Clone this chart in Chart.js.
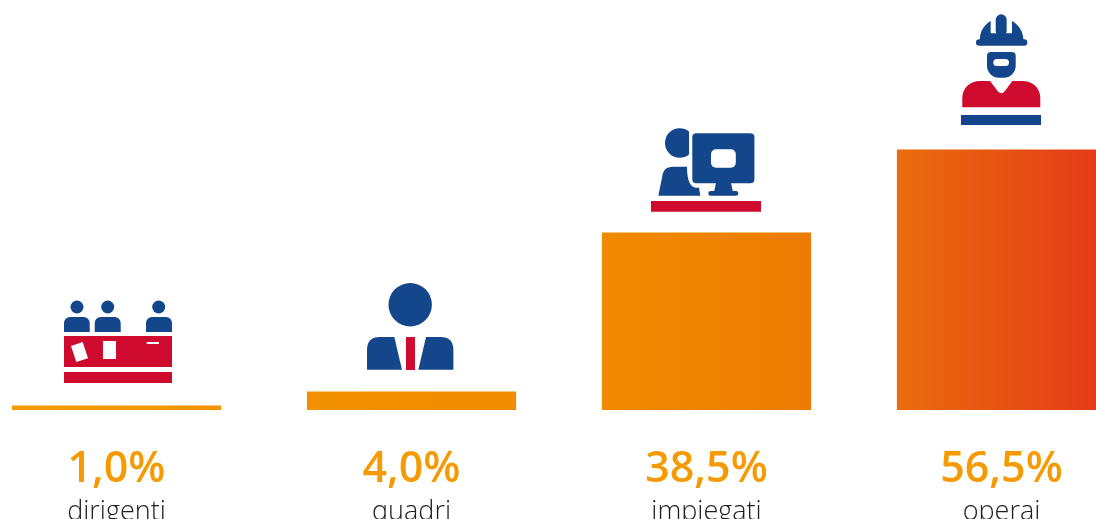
<!DOCTYPE html>
<html><head><meta charset="utf-8">
<style>
html,body{margin:0;padding:0;background:#fff;overflow:hidden;width:1096px;height:519px}
#wrap{position:absolute;left:0;top:0;width:1096px;height:519px;overflow:hidden}
#c{position:absolute;left:-31px;top:0}
</style>
<script src="https://cdn.jsdelivr.net/npm/chart.js@4"></script>
</head><body><div id="wrap"><canvas id="c" width="1180" height="540"></canvas></div>
<script>
const categories = ["dirigenti","quadri","impiegati","operai"];
const shares = [1.0,4.0,38.5,56.5];
const shareLabels = ["1,0%","4,0%","38,5%","56,5%"];

const BLUE="#14468c", RED="#ce0a2f", ORANGE="#f59a00", WHITE="#fff";
function rr(g,x0,y0,x1,y1,r,col){g.fillStyle=col;g.beginPath();g.roundRect(x0,y0,x1-x0,y1-y0,r);g.fill();}
function circ(g,x,y,r,col){g.fillStyle=col;g.beginPath();g.arc(x,y,r,0,Math.PI*2);g.fill();}
const icons=[
 function(g){ // dirigenti
  [[77,64,89.7],[107.7,94.7,120.7],[158.7,146,172]].forEach(p=>{
   circ(g,p[0],307,6.5,BLUE);rr(g,p[1],317,p[2],332,[6,6,0,0],BLUE);});
  rr(g,64,336,172,367,0,RED);rr(g,64,372,172,383,0,RED);
  g.fillStyle=WHITE;g.beginPath();g.moveTo(71,346);g.lineTo(82.7,342);g.lineTo(88,358.3);g.lineTo(76.3,362);g.closePath();g.fill();
  rr(g,103,341,116,359,0,WHITE);rr(g,146.7,342,159,344,0,WHITE);
 },
 function(g){ // quadri
  circ(g,410.2,304.7,21.7,BLUE);
  g.fillStyle=BLUE;
  g.beginPath();g.moveTo(367,369.7);g.lineTo(367,350);g.quadraticCurveTo(367,337,380,337);g.lineTo(394.3,337);g.lineTo(402,369.7);g.closePath();g.fill();
  g.beginPath();g.moveTo(453.4,369.7);g.lineTo(453.4,350);g.quadraticCurveTo(453.4,337,440.4,337);g.lineTo(426,337);g.lineTo(418.4,369.7);g.closePath();g.fill();
  rr(g,406,337,415,370,0,RED);
 },
 function(g){ // impiegati
  g.save();g.beginPath();g.rect(650,120,39,50);g.clip();circ(g,679.7,143,14.7,BLUE);g.restore();
  g.fillStyle=BLUE;g.beginPath();g.moveTo(658.3,195.7);g.lineTo(663,173);g.quadraticCurveTo(665,166.7,673,166.7);g.lineTo(687,166.7);
  g.quadraticCurveTo(687,187.7,697,187.7);g.lineTo(699,187.7);g.lineTo(700.3,195.7);g.closePath();g.fill();
  rr(g,692.3,133.3,754.4,183.3,4,BLUE);
  rr(g,711,149.3,735.8,167.7,5,WHITE);
  g.fillStyle=BLUE;g.beginPath();g.moveTo(716,183);g.lineTo(731,183);g.lineTo(733,192);g.lineTo(714,192);g.closePath();g.fill();
  rr(g,708.3,191,738.3,195.7,2.3,BLUE);
  rr(g,651,201,761,211.7,0,RED);
 },
 function(g){ // operai
  g.fillStyle=BLUE;g.beginPath();g.moveTo(979.8,40);g.bezierCurveTo(980,31,984,25,990.7,21);g.lineTo(990.7,33.3);g.lineTo(1012,33.3);g.lineTo(1012,21);g.bezierCurveTo(1019,25,1023,31,1023.5,40);g.closePath();g.fill();
  rr(g,995.7,14.3,1006.7,36,5.5,BLUE);
  rr(g,976,39.3,1027.3,45.7,3.2,BLUE);
  rr(g,987,52,1015.7,77.7,[4,4,12,12],BLUE);
  rr(g,993.3,59,1009,66,3.5,WHITE);
  g.fillStyle=RED;g.beginPath();g.moveTo(962.3,107.3);g.lineTo(962.3,98);g.bezierCurveTo(962.3,88,970,81,980,81);g.lineTo(990,81);g.lineTo(998,91.5);g.quadraticCurveTo(1001.3,95,1004.6,91.5);g.lineTo(1012.3,81);g.lineTo(1022,81);g.bezierCurveTo(1033,81,1040.3,88,1040.3,98);g.lineTo(1040.3,107.3);g.closePath();g.fill();
  rr(g,961,115,1041,125,0,BLUE);
 }
];
const refX=[116.5,411.5,706.5,1001.5];
const iconPlugin={id:"icons",afterDatasetsDraw(chart){
  const g=chart.ctx,x=chart.scales.x;
  categories.forEach((c,i)=>{g.save();g.translate(x.getPixelForValue(i)-refX[i],0);icons[i](g);g.restore();});
}};
function grad(ctx){
  const a=ctx.chart.chartArea; if(!a) return ORANGE;
  const l=a.left+31,r=l+1096;
  const gr=ctx.chart.ctx.createLinearGradient(l,0,r,0);
  gr.addColorStop(0,"#f59a00");gr.addColorStop(0.55,"#f08a00");gr.addColorStop(0.74,"#ed7b02");gr.addColorStop(0.82,"#ea6c0c");gr.addColorStop(1,"#e43c18");
  return gr;
}
new Chart(document.getElementById("c"),{
 type:"bar",
 data:{labels:categories,datasets:[{data:shares,backgroundColor:grad,borderWidth:0,categoryPercentage:1,barPercentage:0.709,xAxisID:"x"}]},
 plugins:[iconPlugin],
 options:{responsive:false,animation:false,layout:{padding:0},
  plugins:{legend:{display:false},tooltip:{enabled:false}},
  scales:{
   y:{display:false,min:0,max:88.94},
   v:{type:"category",labels:shareLabels,position:"bottom",weight:0,offset:true,grid:{display:false},border:{display:false},
      ticks:{color:ORANGE,font:{family:"'Open Sans'",size:43,weight:"600"},padding:26,autoSkip:false,maxRotation:0,minRotation:0},
      afterFit(s){s.height=78;}},
   x:{type:"category",position:"bottom",weight:1,offset:true,grid:{display:false},border:{display:false},
      ticks:{color:"#1d1d1b",font:{family:"'Open Sans'",size:27,weight:"300"},padding:0,autoSkip:false,maxRotation:0,minRotation:0},
      afterFit(s){s.height=52;}}
  }}
});
</script></body></html>
